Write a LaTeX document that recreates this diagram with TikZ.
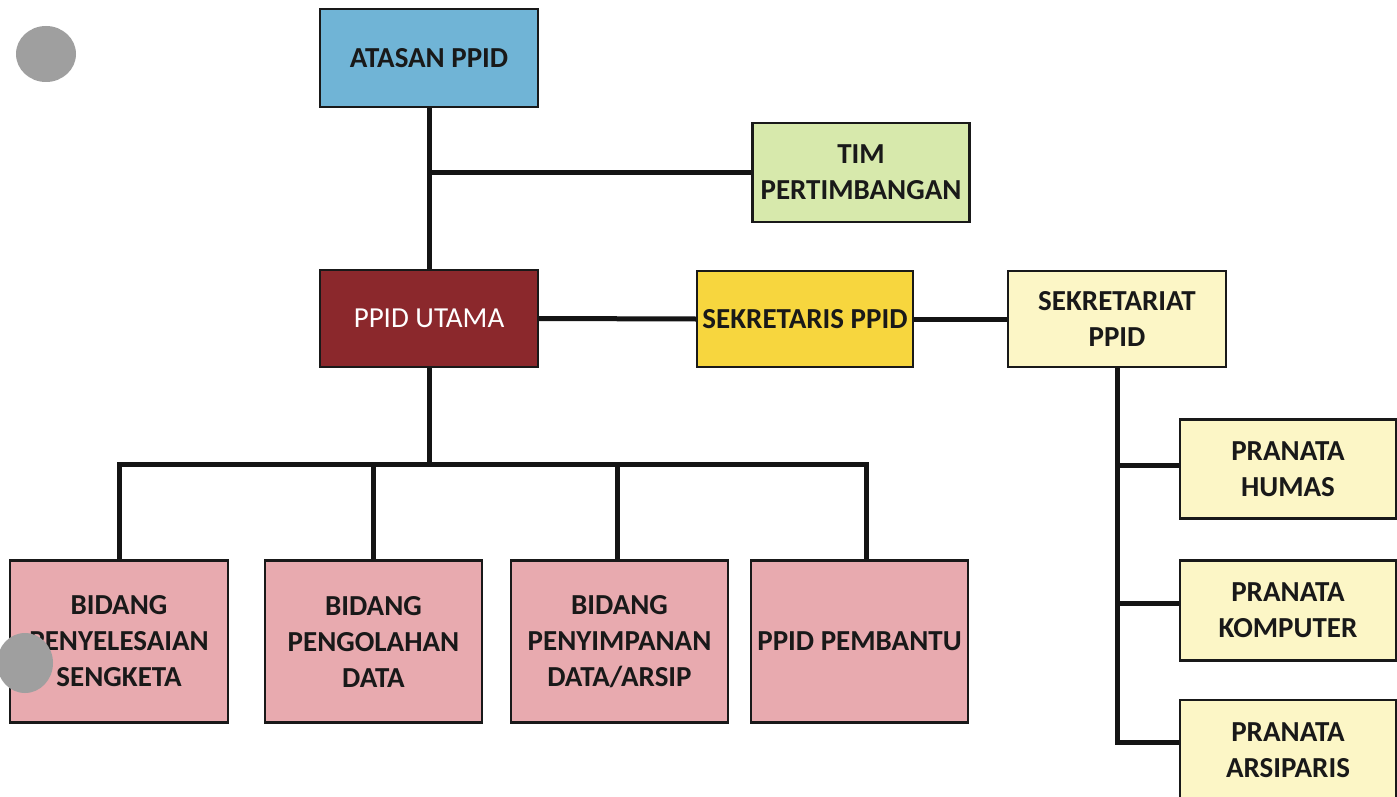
\documentclass[tikz,border=0pt]{standalone}
\usepackage{fontspec}
\setmainfont{Carlito}
\definecolor{cblue}{RGB}{112,180,214}
\definecolor{cgreen}{RGB}{215,233,172}
\definecolor{cred}{RGB}{139,40,44}
\definecolor{cyellow}{RGB}{247,214,62}
\definecolor{cpale}{RGB}{252,246,198}
\definecolor{cpink}{RGB}{232,170,175}
\begin{document}
\begin{tikzpicture}[x=1pt,y=-1pt,
  box/.style={draw=black!90, line width=2.2pt, align=center, inner sep=0pt,
    font=\fontsize{29}{36}\selectfont\bfseries, text=black!90},
  conn/.style={draw=black!92, line width=5pt},
  hole/.style={fill=gray!75}]
\useasboundingbox (0,0) rectangle (1397,797);
\fill[white] (0,0) rectangle (1397,797);

% top
\node[box, fill=cblue, minimum width=218pt, minimum height=98pt] (atasan) at (429,58) {ATASAN PPID};
\node[box, fill=cgreen, minimum width=217pt, minimum height=99pt] (tim) at (861,172.5) {TIM\\PERTIMBANGAN};
\node[box, fill=cred, minimum width=218pt, minimum height=97pt, font=\fontsize{29}{36}\selectfont, text=white] (utama) at (429,318.5) {PPID UTAMA};
\node[box, fill=cyellow, minimum width=216pt, minimum height=96pt] (sekr) at (805,319) {SEKRETARIS PPID};
\node[box, fill=cpale, minimum width=218pt, minimum height=96pt] (sekt) at (1117,319) {SEKRETARIAT\\PPID};

% bottom row
\node[box, fill=cpink, minimum width=218pt, minimum height=162pt] (b1) at (119,641.5) {BIDANG\\PENYELESAIAN\\SENGKETA};
\node[box, fill=cpink, minimum width=217pt, minimum height=162pt] (b2) at (373.5,641.5) {BIDANG\\PENGOLAHAN\\DATA};
\node[box, fill=cpink, minimum width=217pt, minimum height=162pt] (b3) at (619.5,641.5) {BIDANG\\PENYIMPANAN\\DATA/ARSIP};
\node[box, fill=cpink, minimum width=217pt, minimum height=162pt] (b4) at (859.5,641.5) {PPID PEMBANTU};

% right column
\node[box, fill=cpale, minimum width=216pt, minimum height=99pt] (humas) at (1288,469) {PRANATA\\HUMAS};
\node[box, fill=cpale, minimum width=216pt, minimum height=100pt] (komp) at (1288,610.5) {PRANATA\\KOMPUTER};
\node[box, fill=cpale, minimum width=216pt, minimum height=100pt] (arsip) at (1288,750) {PRANATA\\ARSIPARIS};

% connectors
\draw[conn] (atasan.south) -- (utama.north);
\draw[conn] (tim.west) -- (atasan.south |- tim.west);
\draw[conn] (utama.east) -- (sekr.west);
\draw[conn] (sekr.east) -- (sekt.west);
\coordinate (bus) at (429,464);
\draw[conn] (utama.south) -- (bus);
\draw[conn] (b1.north) |- (bus) -| ([xshift=7pt]b4.north);
\draw[conn] (b2.north) -- (b2.north |- bus);
\draw[conn] ([xshift=-2pt]b3.north) -- ([xshift=-2pt]b3.north |- bus);
\draw[conn, line join=miter] (sekt.south) |- ([yshift=8pt]arsip.west);
\draw[conn] ([yshift=4pt]humas.west) -- ++(-63,0);
\draw[conn] ([yshift=7pt]komp.west) -- ++(-63,0);

% punched holes of the scan
\fill[hole] (46,54) ellipse (30pt and 28pt);
\fill[hole] (25,663) ellipse (28pt and 30pt);
\end{tikzpicture}
\end{document}
